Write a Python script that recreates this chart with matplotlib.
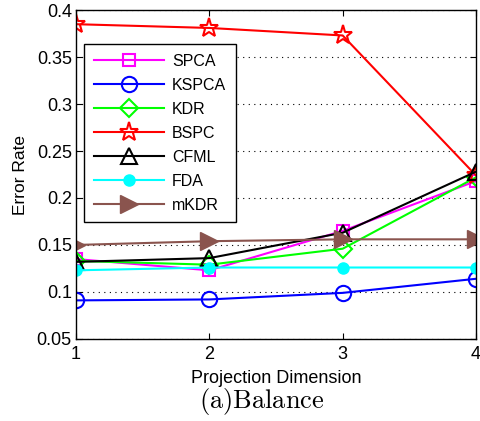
import matplotlib
matplotlib.use("Agg")
import matplotlib.pyplot as plt

plt.rcParams['font.family'] = ['Liberation Sans', 'DejaVu Sans']
plt.rcParams['mathtext.fontset'] = 'cm'

dims = [1, 2, 3, 4]
spca = [0.135, 0.123, 0.165, 0.218]
kspca = [0.091, 0.092, 0.099, 0.114]
kdr = [0.133, 0.129, 0.146, 0.222]
bspc = [0.385, 0.381, 0.373, 0.224]
cfml = [0.132, 0.136, 0.163, 0.228]
fda = [0.123, 0.126, 0.126, 0.126]
mkdr = [0.150, 0.154, 0.156, 0.156]

fig = plt.figure(figsize=(4.81, 4.21), dpi=100)
ax = fig.add_axes([0.158, 0.195, 0.8316, 0.781])

lw = 1.5
ax.plot(dims, spca, color='#ff00ff', marker='s', ms=9, mfc='none', mew=1.5, lw=lw, label='SPCA')
ax.plot(dims, kspca, color='#0000ff', marker='o', ms=11, mfc='none', mew=1.5, lw=lw, label='KSPCA')
ax.plot(dims, kdr, color='#00ff00', marker='D', ms=9, mfc='none', mew=1.5, lw=lw, label='KDR')
ax.plot(dims, bspc, color='#ff0000', marker='*', ms=14, mfc='none', mew=1.5, lw=lw, label='BSPC')
ax.plot(dims, cfml, color='#000000', marker='^', ms=11, mfc='none', mew=1.5, lw=lw, label='CFML')
ax.plot(dims, fda, color='#00ffff', marker='o', ms=8, mfc='#00ffff', mew=1.0, lw=lw, label='FDA')
ax.plot(dims, mkdr, color='#8a544e', marker='>', ms=13, mfc='#8a544e', mew=1.0, lw=lw, label='mKDR')

ax.set_xlim(1, 4)
ax.set_ylim(0.05, 0.4)
ax.set_xticks([1, 2, 3, 4])
ax.set_yticks([0.05, 0.1, 0.15, 0.2, 0.25, 0.3, 0.35, 0.4])
ax.set_yticklabels(['0.05', '0.1', '0.15', '0.2', '0.25', '0.3', '0.35', '0.4'])
ax.yaxis.grid(True, linestyle=(0, (1, 4)), color='black', lw=0.8)
ax.tick_params(direction='in', labelsize=13, length=4, top=True, right=True, pad=3)
ax.tick_params(axis='x', pad=5)
for s in ax.spines.values():
    s.set_linewidth(1.0)

ax.set_xlabel('Projection Dimension', fontsize=13, labelpad=5)
ax.set_ylabel('Error Rate', fontsize=12.5, labelpad=6)

leg = ax.legend(loc='upper left', bbox_to_anchor=(0.0, 0.92), fontsize=11.5,
                handlelength=4.4, handletextpad=0.5, borderpad=0.6, labelspacing=0.56,
                fancybox=False, framealpha=1, edgecolor='black')
leg.get_frame().set_linewidth(1.0)

fig.text(0.545, 0.047, r'$\mathrm{(a)Balance}$', ha='center', va='center', fontsize=19)

fig.savefig('out.png', dpi=100)
